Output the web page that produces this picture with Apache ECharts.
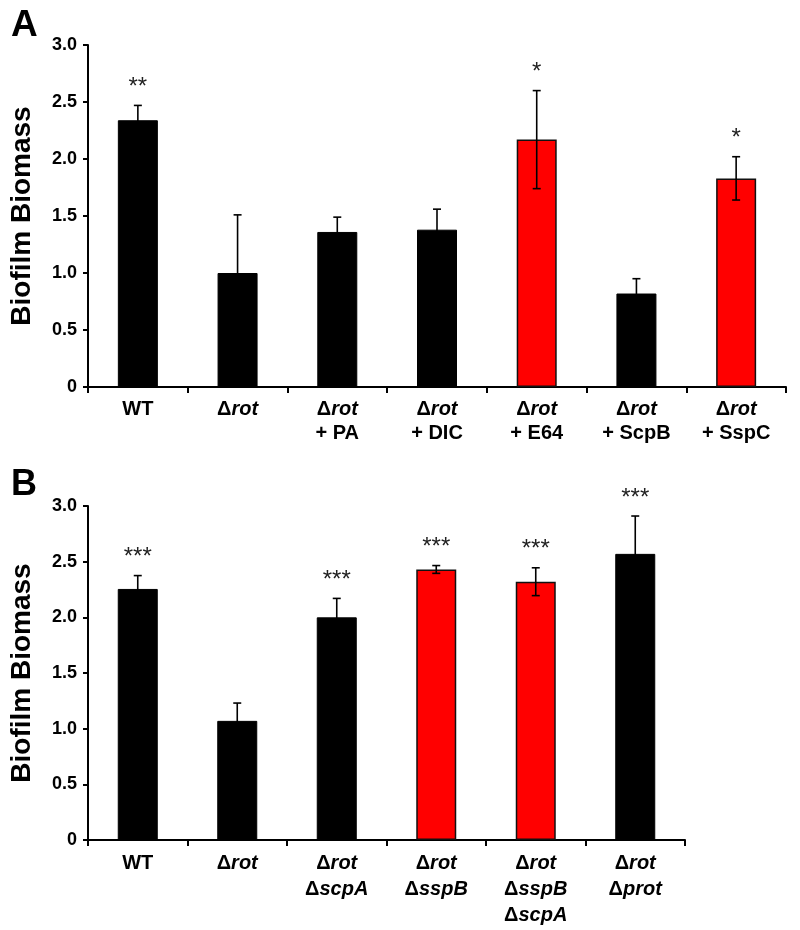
<!DOCTYPE html>
<html>
<head>
<meta charset="utf-8">
<script src="https://cdn.jsdelivr.net/npm/echarts@6/dist/echarts.min.js"></script>
<style>
html,body{margin:0;padding:0;background:#fff;}
#chart{width:800px;height:930px;}
</style>
</head>
<body>
<div id="chart"></div>
<script>
// ---------- Data ----------
const categoriesA = ['WT', 'Δrot', 'Δrot\n+ PA', 'Δrot\n+ DIC', 'Δrot\n+ E64', 'Δrot\n+ ScpB', 'Δrot\n+ SspC'];
const meansA = [2.34, 1.00, 1.36, 1.38, 2.17, 0.82, 1.83];
const errorsA = [0.13, 0.51, 0.13, 0.18, 0.43, 0.13, 0.19];
const starsA = ['**', '', '', '', '*', '', '*'];
const highlightA = [false, false, false, false, true, false, true];

const categoriesB = ['WT', 'Δrot', 'Δrot\nΔscpA', 'Δrot\nΔsspB', 'Δrot\nΔsspB\nΔscpA', 'Δrot\nΔprot'];
const meansB = [2.255, 1.07, 2.00, 2.43, 2.32, 2.57];
const errorsB = [0.12, 0.16, 0.17, 0.035, 0.125, 0.34];
const starsB = ['***', '', '***', '***', '***', '***'];
const highlightB = [false, false, false, true, true, false];

const yTicks = [0, 0.5, 1.0, 1.5, 2.0, 2.5, 3.0];

// ---------- Helpers ----------
const FONT = 'Liberation Sans, Arial, sans-serif';
function fmtLabel(v) {
  return v.split('\n').map(line => {
    if (line.charAt(0) === 'Δ') return '{d|Δ}{i|' + line.slice(1) + '}';
    return '{n|' + line + '}';
  }).join('\n');
}
function xAxisCfg(gi, cats, lh) {
  return {
    type: 'category', gridIndex: gi, data: cats,
    axisLine: { lineStyle: { color: '#000', width: 2 } },
    axisTick: { show: true, length: 6, lineStyle: { color: '#000', width: 2 }, alignWithLabel: false },
    axisLabel: {
      margin: 10, interval: 0, formatter: fmtLabel, color: '#000',
      rich: {
        d: { fontFamily: FONT, fontWeight: 'bold', fontSize: 20, lineHeight: lh, color: '#000' },
        i: { fontFamily: FONT, fontWeight: 'bold', fontStyle: 'italic', fontSize: 20, lineHeight: lh, color: '#000' },
        n: { fontFamily: FONT, fontWeight: 'bold', fontSize: 20, lineHeight: lh, color: '#000' }
      }
    }
  };
}
function yAxisCfg(gi) {
  return {
    type: 'value', gridIndex: gi, min: yTicks[0], max: yTicks[yTicks.length - 1], interval: 0.5,
    name: 'Biofilm Biomass', nameLocation: 'middle', nameGap: 52,
    nameTextStyle: { fontFamily: FONT, fontWeight: 'bold', fontSize: 28, color: '#000' },
    axisLine: { show: true, lineStyle: { color: '#000', width: 2 } },
    axisTick: { show: true, length: 5, lineStyle: { color: '#000', width: 2 } },
    splitLine: { show: false },
    axisLabel: {
      margin: 11, color: '#000', fontFamily: FONT, fontWeight: 'bold', fontSize: 18,
      formatter: v => v === 0 ? '0' : v.toFixed(1)
    }
  };
}
function barSeries(gi, means, hl) {
  return {
    type: 'bar', xAxisIndex: gi, yAxisIndex: gi, barWidth: 40,
    data: means.map((m, i) => ({
      value: m,
      itemStyle: hl[i] ? { color: '#ff0000', borderColor: '#111', borderWidth: 1.5 }
                        : { color: '#000', borderColor: '#000', borderWidth: 1 }
    })),
    silent: true
  };
}
function errSeries(gi, means, errs, stars) {
  return {
    type: 'custom', xAxisIndex: gi, yAxisIndex: gi, silent: true, z: 5,
    data: means.map((m, i) => [i, m, errs[i]]),
    renderItem: function (params, api) {
      const i = api.value(0), m = api.value(1), e = api.value(2);
      const top = api.coord([i, m + e]);
      const bot = api.coord([i, m - e]);
      const cw = 4;
      const st = { stroke: '#000', lineWidth: 1.6 };
      const children = [
        { type: 'line', shape: { x1: top[0], y1: top[1], x2: bot[0], y2: bot[1] }, style: st },
        { type: 'line', shape: { x1: top[0] - cw, y1: top[1], x2: top[0] + cw, y2: top[1] }, style: st },
        { type: 'line', shape: { x1: bot[0] - cw, y1: bot[1], x2: bot[0] + cw, y2: bot[1] }, style: st }
      ];
      const s = stars[params.dataIndex];
      if (s) {
        children.push({
          type: 'text',
          style: { x: top[0], y: top[1] - 18, text: s, align: 'center', verticalAlign: 'middle',
                   fontFamily: FONT, fontSize: 24, fill: '#222' }
        });
      }
      return { type: 'group', children: children };
    }
  };
}

const chart = echarts.init(document.getElementById('chart'), null, { renderer: 'canvas' });
chart.setOption({
  backgroundColor: '#fff',
  animation: false,
  title: [
    { text: 'A', left: 6, top: 2, textStyle: { fontFamily: FONT, fontWeight: 'bold', fontSize: 37, color: '#000' } },
    { text: 'B', left: 6, top: 462, textStyle: { fontFamily: FONT, fontWeight: 'bold', fontSize: 36, color: '#000' } }
  ],
  grid: [
    { left: 86, top: 45, width: 700, height: 342 },
    { left: 85, top: 506, width: 600, height: 334 }
  ],
  xAxis: [xAxisCfg(0, categoriesA, 24), xAxisCfg(1, categoriesB, 26)],
  yAxis: [yAxisCfg(0), yAxisCfg(1)],
  series: [
    barSeries(0, meansA, highlightA),
    errSeries(0, meansA, errorsA, starsA),
    barSeries(1, meansB, highlightB),
    errSeries(1, meansB, errorsB, starsB)
  ]
});
</script>
</body>
</html>
